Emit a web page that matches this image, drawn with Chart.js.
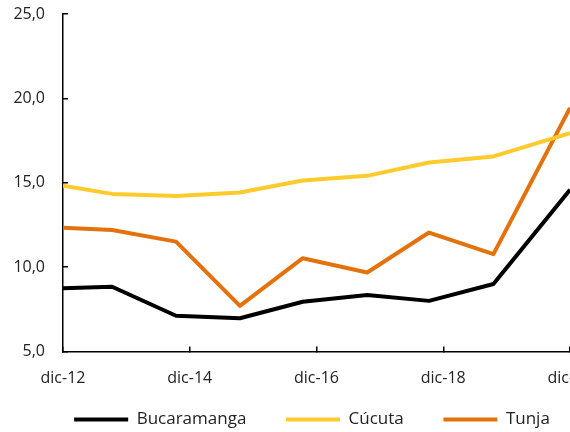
<!DOCTYPE html>
<html>
<head>
<meta charset="utf-8">
<script src="https://cdn.jsdelivr.net/npm/chart.js@4/dist/chart.umd.min.js"></script>
<style>
  body { margin: 0; overflow: hidden; background: #fff; }
  #wrap { position: relative; width: 624px; height: 438px; }
</style>
</head>
<body>
<div id="wrap"><canvas id="chart"></canvas></div>
<script>
// months since dic-12 for each observation
const xMonths = [0, 9.3, 21.4, 33.5, 45.4, 57.6, 69.3, 81.5, 96];
const bucaramanga = [8.75, 8.84, 7.12, 6.97, 7.95, 8.35, 8.0, 9.0, 14.58];
const cucuta = [14.82, 14.34, 14.22, 14.42, 15.13, 15.41, 16.2, 16.56, 17.94];
const tunja = [12.34, 12.2, 11.51, 7.7, 10.53, 9.68, 12.05, 10.77, 19.44];

const xTickLabels = ['dic-12', 'dic-14', 'dic-16', 'dic-18', 'dic-20'];
const yTickLabels = ['5,0', '10,0', '15,0', '20,0', '25,0'];

function toPoints(values) {
    return values.map((v, i) => ({ x: xMonths[i], y: v }));
}

function makeSeries(label, values, color) {
    return {
        label: label,
        data: toPoints(values),
        borderColor: color,
        backgroundColor: color,
        borderWidth: 4,
        tension: 0,
        pointRadius: 0,
        borderJoinStyle: 'round',
        fill: false
    };
}

Chart.defaults.font.family = "'Open Sans', sans-serif";
Chart.defaults.font.size = 16;
Chart.defaults.color = '#222';

// wider gaps between legend entries
function legendLabels(chart) {
    const items = Chart.defaults.plugins.legend.labels.generateLabels(chart);
    return items.map((item, i) => {
        if (i < items.length - 1) item.text = item.text + '\u00a0\u00a0\u00a0\u00a0';
        return item;
    });
}

const ctx = document.getElementById('chart').getContext('2d');
new Chart(ctx, {
    type: 'line',
    data: {
        datasets: [
            makeSeries('Bucaramanga', bucaramanga, '#000000'),
            makeSeries('Cúcuta', cucuta, '#FFCA2C'),
            makeSeries('Tunja', tunja, '#E4720C')
        ]
    },
    options: {
        responsive: true,
        maintainAspectRatio: false,
        animation: false,
        layout: {
            padding: { top: 14, left: 0, right: 0, bottom: 0 }
        },
        scales: {
            x: {
                type: 'linear',
                min: 0,
                max: 96,
                afterFit: scale => { scale.height = 37.5; },
                border: { color: '#000', width: 1.5 },
                grid: { drawOnChartArea: false, color: '#000', lineWidth: 1.5, tickLength: -5 },
                ticks: {
                    stepSize: 24,
                    padding: 22,
                    maxRotation: 0,
                    callback: (value, index) => xTickLabels[index]
                }
            },
            y: {
                min: 5,
                max: 25,
                afterFit: scale => {
                    scale.width = 63;
                    scale.paddingTop = 0;
                },
                border: { color: '#000', width: 1.5 },
                grid: { drawOnChartArea: false, color: '#000', lineWidth: 1.5, tickLength: -5 },
                ticks: {
                    stepSize: 5,
                    padding: 23,
                    callback: (value, index) => yTickLabels[index]
                }
            },
            // empty right axis, only keeps room on the right side
            y2: {
                position: 'right',
                min: 5,
                max: 25,
                afterFit: scale => { scale.width = 54; },
                border: { display: false },
                grid: { display: false },
                ticks: { display: false }
            }
        },
        plugins: {
            tooltip: { enabled: false },
            legend: {
                position: 'bottom',
                labels: {
                    usePointStyle: true,
                    pointStyle: 'line',
                    pointStyleWidth: 54,
                    padding: 22,
                    color: '#222',
                    font: { size: 17 },
                    generateLabels: legendLabels
                }
            }
        }
    }
});
</script>
</body>
</html>
